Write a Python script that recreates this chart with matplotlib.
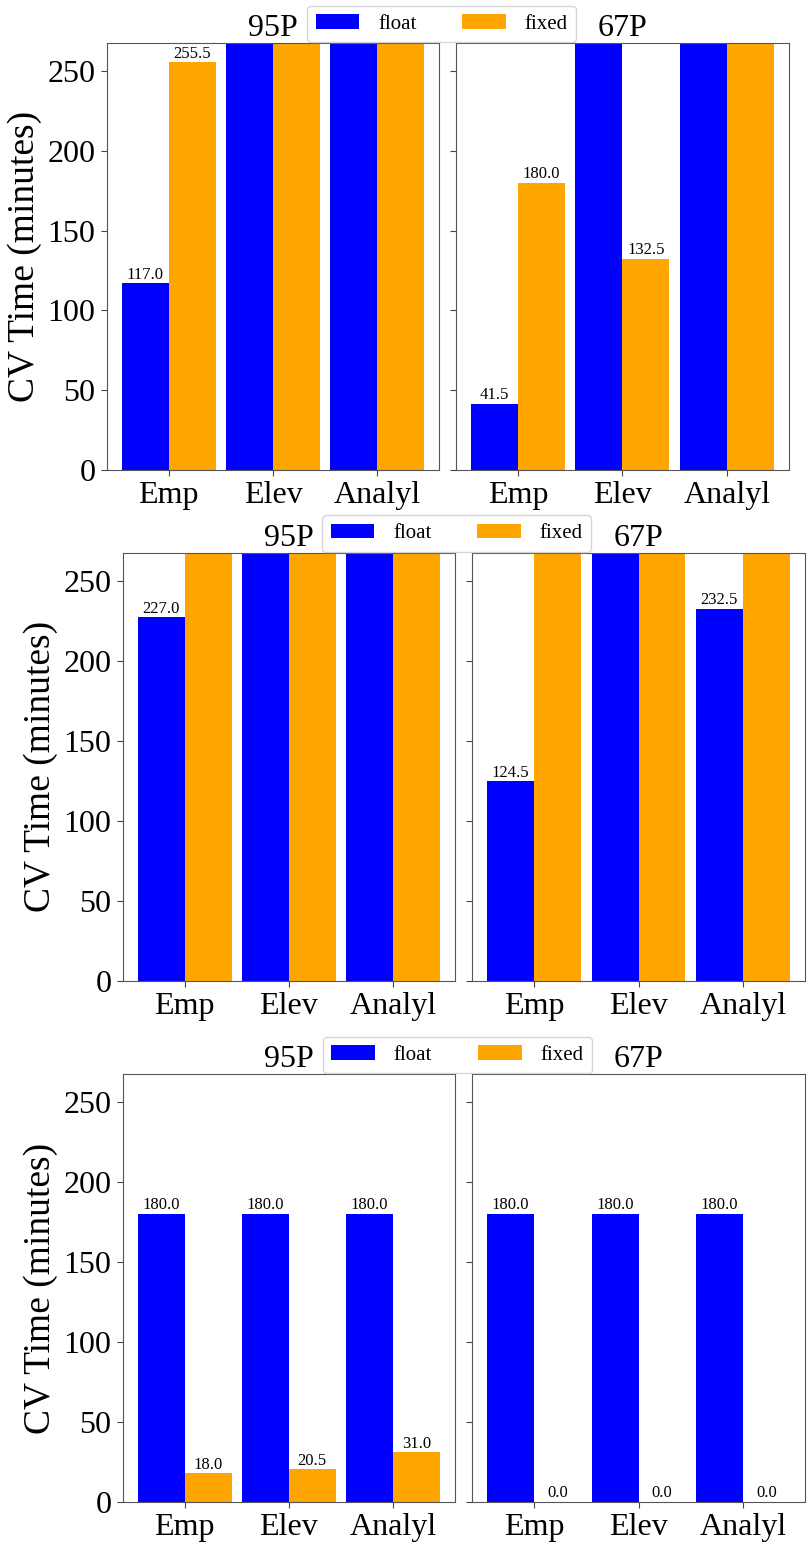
import numpy as np
import matplotlib
matplotlib.use('Agg')
import matplotlib.pyplot as plt

plt.rcParams['font.family'] = ['Liberation Serif', 'DejaVu Serif']

# %%
categories = ['Emp', 'Elev', 'Analyl']
series = ['float', 'fixed']
panel_titles = ['95P', '67P']

# bars that run past the top of the axis are off the scale; 300.0 stands in for them
off = 300.0

# row 1
r1_95_float = [117.0, off, off]
r1_95_fixed = [255.5, off, off]
r1_67_float = [41.5, off, off]
r1_67_fixed = [180.0, 132.5, off]

# row 2
r2_95_float = [227.0, off, off]
r2_95_fixed = [off, off, off]
r2_67_float = [124.5, off, 232.5]
r2_67_fixed = [off, off, off]

# row 3
r3_95_float = [180.0, 180.0, 180.0]
r3_95_fixed = [18.0, 20.5, 31.0]
r3_67_float = [180.0, 180.0, 180.0]
r3_67_fixed = [0.0, 0.0, 0.0]

ymax = 267.5

# %%
W, H = 809, 1552
fig = plt.figure(figsize=(W / 100, H / 100), dpi=100)


def px_axes(x0, x1, y0, y1):
    return fig.add_axes([x0 / W, 1 - y1 / H, (x1 - x0) / W, (y1 - y0) / H])


def draw_panel(ax, float_vals, fixed_vals, title, ylabel=False):
    x = np.arange(len(categories))
    w = 0.45
    b1 = ax.bar(x - w / 2, float_vals, w, color='blue', label='float')
    b2 = ax.bar(x + w / 2, fixed_vals, w, color='orange', label='fixed')
    for bars in (b1, b2):
        for rect in bars:
            h = rect.get_height()
            ax.annotate('%.1f' % h, xy=(rect.get_x() + rect.get_width() / 2, h),
                        xytext=(0, 0.5), textcoords='offset points',
                        ha='center', va='bottom', fontsize=12)
    ax.set_ylim(0, ymax)
    ax.set_xticks(x)
    ax.set_xticklabels(categories)
    ax.tick_params(labelsize=23, color='#444444', length=4.5)
    for s in ax.spines.values():
        s.set_color('#555555')
    ax.set_title(title, fontsize=23, pad=5)
    if ylabel:
        ax.set_ylabel('CV Time (minutes)', fontsize=27)
    else:
        ax.tick_params(labelleft=False)
    return b1, b2


rows = [
    # (left x0, x1), (right x0, x1), (y0, y1), legend centre x, data
    ((106.7, 439.3), (455.7, 789.0), (43.3, 470.0), 441.7,
     (r1_95_float, r1_95_fixed, r1_67_float, r1_67_fixed)),
    ((122.7, 455.0), (472.0, 805.0), (552.7, 980.7), 456.7,
     (r2_95_float, r2_95_fixed, r2_67_float, r2_67_fixed)),
    ((122.7, 455.0), (472.0, 805.0), (1074.0, 1502.0), 457.5,
     (r3_95_float, r3_95_fixed, r3_67_float, r3_67_fixed)),
]

for lx, rx, ys, lcx, data in rows:
    ax1 = px_axes(lx[0], lx[1], ys[0], ys[1])
    ax2 = px_axes(rx[0], rx[1], ys[0], ys[1])
    handles = draw_panel(ax1, data[0], data[1], panel_titles[0], ylabel=True)
    draw_panel(ax2, data[2], data[3], panel_titles[1])
    fig.legend(handles, series, loc='lower center', ncol=2,
               bbox_to_anchor=(lcx / W, 1 - (ys[0] - 1) / H),
               borderaxespad=0, fontsize=15, handlelength=2.1,
               handletextpad=0.9, columnspacing=2.2)

fig.savefig('out.png', dpi=100)
